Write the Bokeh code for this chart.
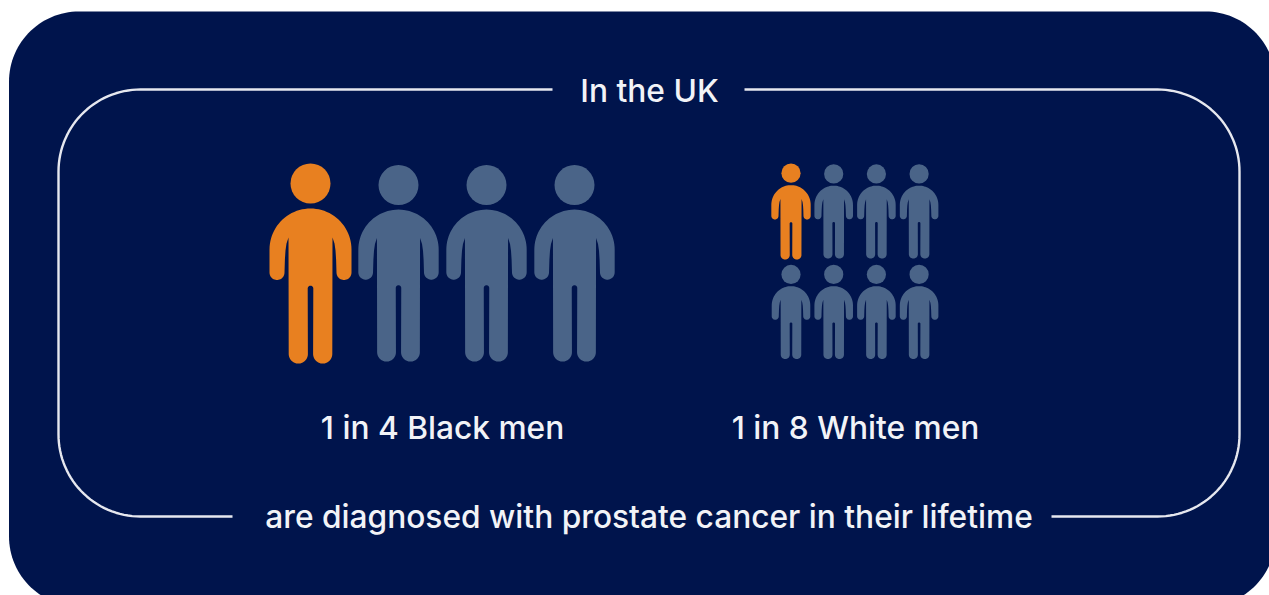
import numpy as np
from bokeh.core.properties import value
from bokeh.embed import file_html
from bokeh.models import ColumnDataSource, Range1d
from bokeh.plotting import figure
from bokeh.resources import INLINE

W, H = 1269, 595

# Statistics shown by the pictograms
group_labels = ["1 in 4 Black men", "1 in 8 White men"]
group_totals = [4, 8]
group_highlighted = [1, 1]
header_text = "In the UK"
footer_text = "are diagnosed with prostate cancer in their lifetime"

NAVY = "#00144c"
ORANGE = "#e88020"
SLATE = "#4a6488"
FRAME = "#e6e8ef"
TEXT = "#f2f3f7"
FONT = "Inter Medium, Inter"


def arc(cx, cy, r, a0, a1, n=24):
    t = np.radians(np.linspace(a0, a1, n))
    return list(cx + r * np.cos(t)), list(cy + r * np.sin(t))


def person_outline():
    """Body outline in a 200-unit tall box; y grows downward, x is centred."""
    xs, ys = [], []

    def add(seg):
        xs.extend(seg[0])
        ys.extend(seg[1])

    add(arc(0, 86, 41, -90, 0))          # shoulder
    add(arc(33.5, 109, 7.5, 0, 180))     # hand
    add(([25.6, 25.0, 24.0, 22.0], [96, 87, 80, 74]))   # inside of the arm
    add(arc(12.2, 190.5, 9.6, 0, 180))   # foot
    add(arc(0, 125, 2.8, 0, -180))       # crotch
    add(arc(-12.2, 190.5, 9.6, 0, 180))
    add(([-22.0, -24.0, -25.0, -25.6], [74, 80, 87, 96]))
    add(arc(-33.5, 109, 7.5, 0, 180))
    add(arc(0, 86, 41, 180, 270))
    return np.array(xs), np.array(ys)


BODY_X, BODY_Y = person_outline()
HEAD_CY, HEAD_R = 20.0, 20.0

p = figure(width=W, height=H, x_range=Range1d(0, W), y_range=Range1d(H, 0),
           output_backend="svg", toolbar_location=None, min_border=0,
           background_fill_color="white", border_fill_color="white",
           outline_line_color=None)
p.axis.visible = False
p.grid.visible = False

# Panel behind everything; its right and bottom edges run off the page
L, T, R, B, r = 8.5, 11, 1275, 606, 70
px, py = [], []
for cx, cy, a0 in [(L + r, T + r, 180), (R - r, T + r, 270), (R - r, B - r, 0), (L + r, B - r, 90)]:
    ax, ay = arc(cx, cy, r, a0, a0 + 90, 32)
    px += ax
    py += ay
p.patch(px, py, fill_color=NAVY, line_color=None)

# Frame, broken where the header and footer sentences sit
fl, ft, fr, fb, fr_r = 58, 89, 1239, 516, 82
lx, ly = [552.0], [ft]
for cx, cy, a0 in [(fl + fr_r, ft + fr_r, 270), (fl + fr_r, fb - fr_r, 180)]:
    ax, ay = arc(cx, cy, fr_r, a0, a0 - 90, 32)
    lx += ax
    ly += ay
lx.append(232.0)
ly.append(fb)
rx, ry = [744.0], [ft]
for cx, cy, a0 in [(fr - fr_r, ft + fr_r, -90), (fr - fr_r, fb - fr_r, 0)]:
    ax, ay = arc(cx, cy, fr_r, a0, a0 + 90, 32)
    rx += ax
    ry += ay
rx.append(1051.0)
ry.append(fb)
p.multi_line([lx, rx], [ly, ry], line_color=FRAME, line_width=2.4)


def draw_people(centres, tops, scale, highlighted):
    bodies_x, bodies_y, heads_x, heads_y, colors = [], [], [], [], []
    for i, (cx, top) in enumerate(zip(centres, tops)):
        on = i < highlighted
        s = scale * (1.0 if on else 0.98)
        y0 = top - (2 * scale if on else 0)
        bodies_x.append(list(cx + BODY_X * s))
        bodies_y.append(list(y0 + BODY_Y * s))
        heads_x.append(cx)
        heads_y.append(y0 + HEAD_CY * s)
        colors.append(ORANGE if on else SLATE)
    p.patches(bodies_x, bodies_y, fill_color=colors, line_color=None)
    src = ColumnDataSource(dict(x=heads_x, y=heads_y, c=colors))
    p.circle("x", "y", radius=HEAD_R * scale, fill_color="c", line_color=None, source=src)


# Large group: a single row of four figures
n = group_totals[0]
draw_people([310 + 88 * i for i in range(n)], [165] * n, 1.0, group_highlighted[0])

# Small group: two rows of four figures
n = group_totals[1]
draw_people([790.5 + 42.7 * (i % 4) for i in range(n)],
            [164 + 100.5 * (i // 4) for i in range(n)], 0.48, group_highlighted[1])

txt = dict(text_font=value(FONT), text_color=TEXT, text_align="center", text_baseline="middle")
p.text([649], [90], text=[header_text], text_font_size="31.7px", **txt)
p.text([442, 855], [427, 427], text=group_labels, text_font_size="31.7px", **txt)
p.text([648.5], [516], text=[footer_text], text_font_size="31.7px", **txt)

open("out.html", "w").write(file_html(p, INLINE))
